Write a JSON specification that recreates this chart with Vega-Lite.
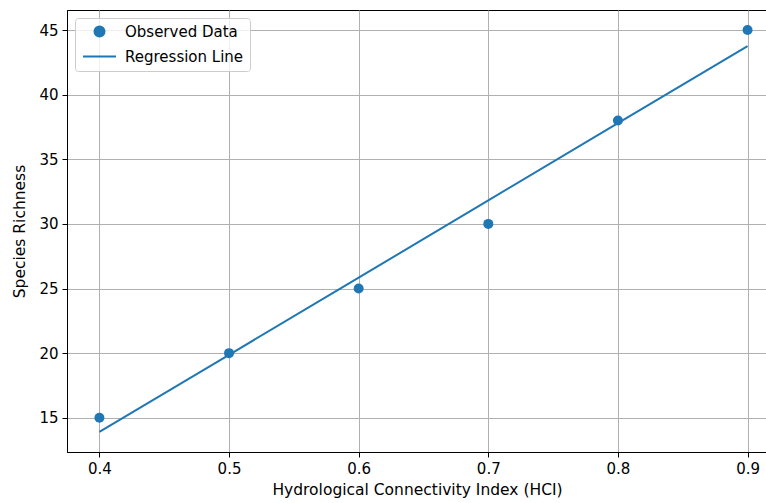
{
  "$schema": "https://vega.github.io/schema/vega-lite/v6.json",
  "autosize": "none",
  "padding": {"left": 67, "top": 10, "right": 0, "bottom": 51},
  "width": 700,
  "height": 442,
  "background": "white",
  "datasets": {
    "observed": [
      {"hci": 0.4, "richness": 15, "series": "Observed Data"},
      {"hci": 0.5, "richness": 20, "series": "Observed Data"},
      {"hci": 0.6, "richness": 25, "series": "Observed Data"},
      {"hci": 0.7, "richness": 30, "series": "Observed Data"},
      {"hci": 0.8, "richness": 38, "series": "Observed Data"},
      {"hci": 0.9, "richness": 45, "series": "Observed Data"}
    ],
    "regression": [
      {"hci": 0.4, "richness": 13.90, "series": "Regression Line"},
      {"hci": 0.5, "richness": 19.87, "series": "Regression Line"},
      {"hci": 0.6, "richness": 25.84, "series": "Regression Line"},
      {"hci": 0.7, "richness": 31.82, "series": "Regression Line"},
      {"hci": 0.8, "richness": 37.79, "series": "Regression Line"},
      {"hci": 0.9, "richness": 43.76, "series": "Regression Line"}
    ]
  },
  "config": {
    "font": "DejaVu Sans",
    "view": {"stroke": "#000000", "strokeWidth": 1},
    "axis": {
      "labelFont": "DejaVu Sans",
      "labelFontSize": 15,
      "labelColor": "#000000",
      "titleFont": "DejaVu Sans",
      "titleFontSize": 15.5,
      "titleFontWeight": "normal",
      "titleColor": "#000000",
      "tickColor": "#000000",
      "tickSize": 5,
      "tickWidth": 1,
      "labelPadding": 4,
      "domainColor": "#000000",
      "domainWidth": 1,
      "gridColor": "#b0b0b0",
      "gridWidth": 1,
      "gridOpacity": 1
    }
  },
  "encoding": {
    "x": {
      "field": "hci",
      "type": "quantitative",
      "title": "Hydrological Connectivity Index (HCI)",
      "scale": {"domain": [0.375, 0.915], "nice": false, "zero": false},
      "axis": {"values": [0.4, 0.5, 0.6, 0.7, 0.8, 0.9], "format": ".1f", "titlePadding": 6}
    },
    "y": {
      "field": "richness",
      "type": "quantitative",
      "title": "Species Richness",
      "scale": {"domain": [12.35, 46.55], "nice": false, "zero": false},
      "axis": {"values": [15, 20, 25, 30, 35, 40, 45], "titlePadding": 11}
    },
    "color": {
      "field": "series",
      "type": "nominal",
      "scale": {"domain": ["Observed Data", "Regression Line"], "range": ["#1f77b4", "#1f77b4"]},
      "legend": {
        "title": null,
        "orient": "top-left",
        "offset": 8,
        "fillColor": "rgba(255,255,255,0.8)",
        "strokeColor": "#cccccc",
        "cornerRadius": 3,
        "padding": 6,
        "symbolOffset": 11,
        "labelOffset": 18,
        "rowPadding": 8,
        "labelFont": "DejaVu Sans",
        "labelFontSize": 15,
        "labelColor": "#000000",
        "symbolSize": 100,
        "symbolOpacity": 1,
        "symbolStrokeColor": "#1f77b4",
        "symbolStrokeWidth": 2,
        "encode": {
          "symbols": {
            "update": {
              "stroke": {"value": "#1f77b4"},
              "strokeWidth": {"value": 2}
            }
          }
        }
      }
    }
  },
  "layer": [
    {
      "data": {"name": "observed"},
      "mark": {"type": "point", "filled": true, "size": 100, "opacity": 1},
      "encoding": {
        "shape": {
          "field": "series",
          "type": "nominal",
          "scale": {"domain": ["Observed Data", "Regression Line"], "range": ["circle", "M-3.3,0L3.3,0"]}
        }
      }
    },
    {
      "data": {"name": "regression"},
      "mark": {"type": "line", "strokeWidth": 2},
      "encoding": {}
    }
  ]
}
